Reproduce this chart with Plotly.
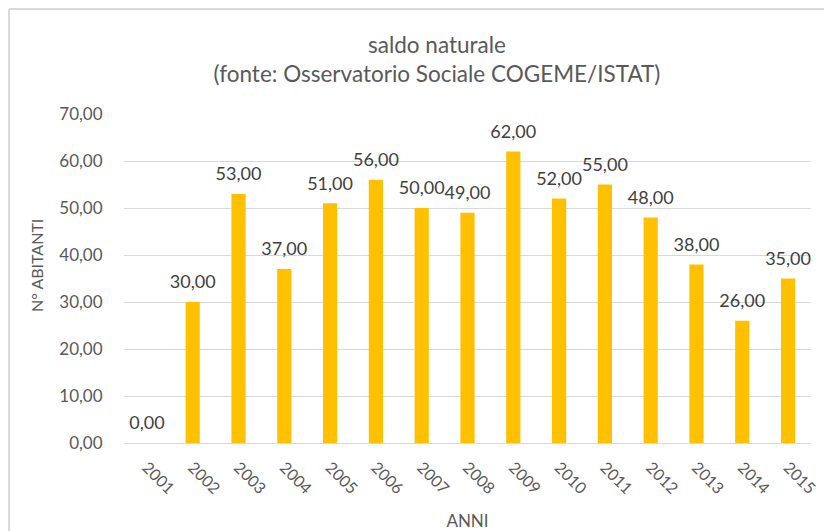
import plotly.graph_objects as go

anni = ["2001", "2002", "2003", "2004", "2005", "2006", "2007", "2008",
        "2009", "2010", "2011", "2012", "2013", "2014", "2015"]
saldo = [0, 30, 53, 37, 51, 56, 50, 49, 62, 52, 55, 48, 38, 26, 35]
y_ticks = [0, 10, 20, 30, 40, 50, 60, 70]

FONT = "Lato, 'Open Sans', sans-serif"
GRAY = "#595959"

fig = go.Figure()

fig.add_trace(go.Bar(
    x=anni,
    y=saldo,
    marker=dict(color="#FFC000", line=dict(width=0)),
    hovertemplate="%{x}: %{y:.2f}<extra></extra>",
))

# data labels sit a bit higher above the bars than plotly's bar text does
fig.add_trace(go.Scatter(
    x=anni,
    y=saldo,
    mode="markers+text",
    marker=dict(size=13, opacity=0),
    texttemplate="%{y:.2f}",
    textposition="top center",
    textfont=dict(size=18, color="#404040", family=FONT),
    cliponaxis=False,
    hoverinfo="skip",
))

fig.update_layout(
    width=824,
    height=523,
    separators=",.",
    paper_bgcolor="white",
    plot_bgcolor="white",
    font=dict(family=FONT, color=GRAY),
    margin=dict(l=116, r=21, t=106, b=88),
    bargap=0.69,
    showlegend=False,
    title=dict(
        text="saldo naturale<br>(fonte: Osservatorio Sociale COGEME/ISTAT)",
        x=0.5206, xanchor="center",
        y=0.914, yanchor="middle",
        font=dict(size=22.5, color=GRAY, family=FONT),
    ),
    xaxis=dict(
        automargin=False,
        range=[-0.5, len(anni) - 0.5],
        tickangle=45,
        tickfont=dict(size=16, color=GRAY),
        showline=True, linecolor="#d9d9d9", linewidth=1,
        ticks="outside", ticklen=8, tickcolor="rgba(0,0,0,0)",
        title=dict(text="ANNI", font=dict(size=17, color=GRAY), standoff=21),
    ),
    yaxis=dict(
        automargin=False,
        range=[0, 70],
        tickvals=y_ticks,
        tickformat=".2f",
        tickfont=dict(size=17, color=GRAY),
        gridcolor="#d9d9d9", gridwidth=1,
        zeroline=False,
        ticks="outside", ticklen=17, tickcolor="rgba(0,0,0,0)",
    ),
    annotations=[
        dict(text="N° ABITANTI", textangle=-90, showarrow=False,
             xref="paper", yref="paper", x=-0.1266, y=0.538,
             xanchor="center", yanchor="middle",
             font=dict(size=16, color=GRAY, family=FONT)),
    ],
    shapes=[
        dict(type="line", xref="paper", yref="paper",
             x0=-0.1674, x1=1.1, y0=1.319, y1=1.319,
             line=dict(color="#d9d9d9", width=2)),
        dict(type="line", xref="paper", yref="paper",
             x0=-0.1674, x1=-0.1674, y0=1.319, y1=-0.3,
             line=dict(color="#d9d9d9", width=2)),
    ],
)

fig.write_html("out.html")
